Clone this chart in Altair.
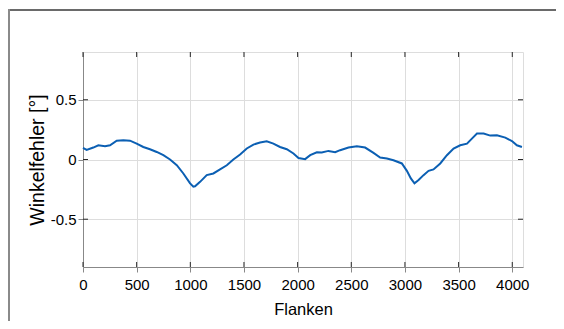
import altair as alt
import pandas as pd

flanken = [0, 34, 96, 143, 205, 252, 314, 376, 438, 500, 562, 624, 687, 749, 811,
           874, 935, 998, 1028, 1044, 1091, 1153, 1215, 1277, 1340, 1401, 1464, 1526,
           1588, 1650, 1712, 1774, 1836, 1899, 1961, 2008, 2070, 2117, 2179, 2225,
           2287, 2350, 2396, 2474, 2552, 2629, 2707, 2769, 2832, 2893, 2971, 3018,
           3055, 3089, 3127, 3173, 3220, 3266, 3329, 3391, 3453, 3515, 3578, 3624,
           3671, 3733, 3795, 3857, 3935, 3997, 4043, 4090]
winkelfehler = [0.097, 0.080, 0.100, 0.119, 0.111, 0.119, 0.158, 0.161, 0.158, 0.133,
                0.105, 0.086, 0.063, 0.036, 0.000, -0.048, -0.117, -0.200, -0.228,
                -0.224, -0.187, -0.131, -0.117, -0.083, -0.048, 0.000, 0.042, 0.092,
                0.125, 0.142, 0.153, 0.133, 0.105, 0.086, 0.050, 0.013, 0.003, 0.036,
                0.061, 0.058, 0.072, 0.061, 0.078, 0.100, 0.111, 0.100, 0.055, 0.017,
                0.008, -0.006, -0.033, -0.095, -0.158, -0.200, -0.172, -0.131, -0.095,
                -0.083, -0.033, 0.036, 0.092, 0.119, 0.133, 0.175, 0.217, 0.217, 0.200,
                0.203, 0.183, 0.155, 0.119, 0.105]

x_ticks = [0, 500, 1000, 1500, 2000, 2500, 3000, 3500, 4000]
y_ticks = [-0.5, 0, 0.5]
x_domain = [0, 4100]
y_domain = [-0.9, 0.9]

W, H = 440, 215
FONT = "Liberation Sans"
TXT = "#262626"

df = pd.DataFrame({"Flanken": flanken, "Winkelfehler": winkelfehler})
xt = pd.DataFrame({"t": x_ticks})
yt = pd.DataFrame({"t": y_ticks})

xs = alt.Scale(domain=x_domain, nice=False, zero=False)
ys = alt.Scale(domain=y_domain, nice=False, zero=False)

line = alt.Chart(df).mark_line(color="#0b5fb3", strokeWidth=2).encode(
    x=alt.X("Flanken:Q", scale=xs,
            axis=alt.Axis(values=x_ticks, title="Flanken", labelFontSize=15,
                          titleFontSize=16.5, labelPadding=5, titlePadding=9,
                          labelFlush=False,
                          titleFontWeight="normal", format="d")),
    y=alt.Y("Winkelfehler:Q", scale=ys,
            axis=alt.Axis(values=y_ticks, title="Winkelfehler [°]", labelFontSize=15,
                          titleFontSize=19.5, labelPadding=2, titlePadding=3,
                          labelFlush=False,
                          titleFontWeight="normal",
                          labelExpr="datum.value == 0 ? '0' : (datum.value < 0 ? '-' : '') + format(abs(datum.value), '.1f')")),
)

tick_style = dict(color=TXT, strokeWidth=1)
bottom_ticks = alt.Chart(xt).mark_rule(**tick_style).encode(
    x=alt.X("t:Q", scale=xs), y=alt.value(H), y2=alt.value(H - 5))
top_ticks = alt.Chart(xt).mark_rule(**tick_style).encode(
    x=alt.X("t:Q", scale=xs), y=alt.value(0), y2=alt.value(5))
left_ticks = alt.Chart(yt).mark_rule(**tick_style).encode(
    y=alt.Y("t:Q", scale=ys), x=alt.value(0), x2=alt.value(5))
right_ticks = alt.Chart(yt).mark_rule(**tick_style).encode(
    y=alt.Y("t:Q", scale=ys), x=alt.value(W), x2=alt.value(W - 5))

one = pd.DataFrame({"a": [0]})
frame_top = alt.Chart(one).mark_rule(color="#6a6a6a", strokeWidth=2).encode(
    x=alt.value(-75), x2=alt.value(W + 60), y=alt.value(-42))
frame_left = alt.Chart(one).mark_rule(color="#8a8a8a", strokeWidth=2).encode(
    x=alt.value(-74), y=alt.value(-43), y2=alt.value(H + 80))

chart = alt.layer(frame_top, frame_left, line, bottom_ticks, top_ticks,
                  left_ticks, right_ticks).properties(
    width=W, height=H,
    autosize=alt.AutoSizeParams(type="none"),
    padding={"left": 75, "top": 44, "right": 33, "bottom": 54},
).configure_view(
    stroke=TXT, strokeWidth=1
).configure_axis(
    labelFont=FONT, titleFont=FONT, labelColor=TXT, titleColor=TXT,
    domainColor=TXT, domainWidth=1, ticks=False,
    gridColor="#e2e2e2", gridWidth=1, grid=True,
).configure(background="white")

chart.save("out.html", embed_options={"renderer": "svg", "actions": False})
